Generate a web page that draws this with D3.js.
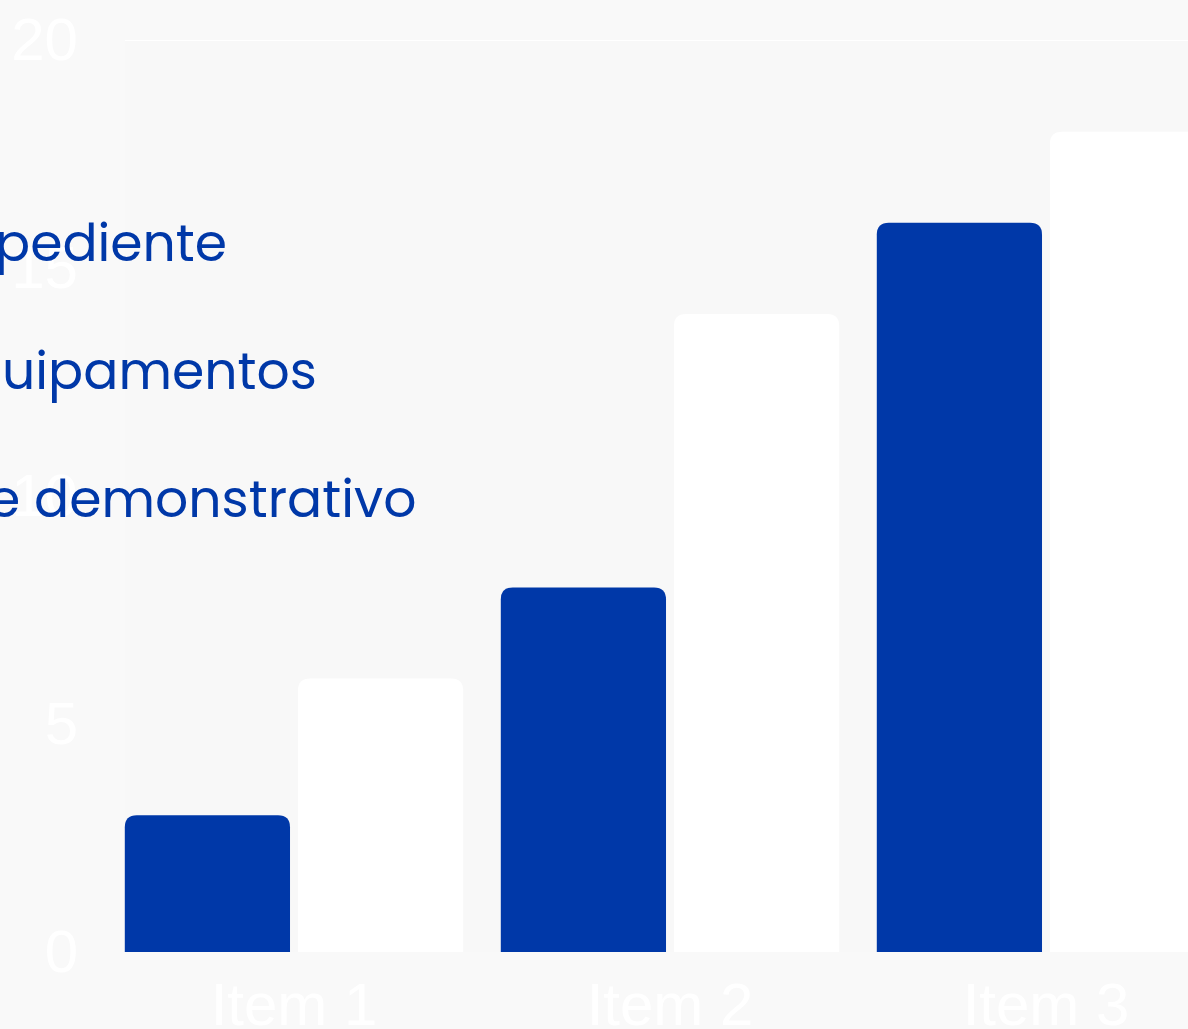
<!DOCTYPE html>
<html>
<head>
<meta charset="utf-8">
<script src="https://cdn.jsdelivr.net/npm/d3@7"></script>
<style>
  html, body { margin: 0; padding: 0; background: #f9f9f9; overflow: hidden; }
</style>
</head>
<body>
<div id="chart"></div>
<script>
const items = ["Item 1", "Item 2", "Item 3"];
const series = ["Série 1", "Série 2"];
const serie1 = [3, 8, 16];
const serie2 = [6, 14, 18];
const yTicks = [0, 5, 10, 15, 20];
// legend labels (partly cut off at the left edge in the picture)
const legendLabels = ["Expediente", "Equipamentos", "Lote demonstrativo"];
const legendCut = ["Ex", "Eq", "Lot"];

const w = 1188, h = 1029;
const baseY = 952, topY = 40.5;

const svg = d3.select("#chart").append("svg")
  .attr("width", w).attr("height", h);

svg.append("rect").attr("width", w).attr("height", h).attr("fill", "#f9f9f9");
svg.append("rect")
  .attr("x", 125).attr("y", topY)
  .attr("width", w - 125).attr("height", baseY - topY)
  .attr("fill", "#f8f8f8");

const x0 = d3.scaleBand().domain(items).range([106, 1234])
  .paddingInner(0.1).paddingOuter(0.05);
const x1 = d3.scaleBand().domain(series).range([0, x0.bandwidth()])
  .paddingInner(0.046);
const y = d3.scaleLinear().domain([0, 20]).range([baseY, topY]);

// only the top grid line shows faintly
svg.append("g").selectAll("line").data(yTicks.filter(d => d === 20)).join("line")
  .attr("x1", 125).attr("x2", w)
  .attr("y1", d => y(d)).attr("y2", d => y(d))
  .attr("stroke", "#ffffff").attr("stroke-width", 1);

const rows = items.map((it, i) => ({ item: it, vals: [serie1[i], serie2[i]] }));
const colors = ["#0038a8", "#ffffff"];

function topRound(x, yy, bw, bh, r) {
  return `M${x},${yy + bh}V${yy + r}Q${x},${yy} ${x + r},${yy}H${x + bw - r}Q${x + bw},${yy} ${x + bw},${yy + r}V${yy + bh}Z`;
}

const g = svg.append("g");
rows.forEach(row => {
  g.selectAll(null).data(row.vals).join("path")
    .attr("d", (v, j) => {
      const bx = x0(row.item) + x1(series[j]);
      return topRound(bx, y(v), x1.bandwidth(), baseY - y(v), 12);
    })
    .attr("fill", (v, j) => colors[j]);
});

// y axis
const yAxis = d3.axisLeft(y).tickValues(yTicks).tickSize(0).tickPadding(0);
const ya = svg.append("g").attr("transform", "translate(78,0)").call(yAxis);
ya.select(".domain").remove();
ya.selectAll("text")
  .attr("fill", "#ffffff")
  .attr("font-family", "'Liberation Sans', Arial, sans-serif")
  .attr("font-size", 60);

// x axis
const xAxis = d3.axisBottom(x0).tickSize(0).tickPadding(0);
const xa = svg.append("g").attr("transform", `translate(0,${baseY})`).call(xAxis);
xa.select(".domain").remove();
xa.selectAll("text")
  .attr("fill", "#ffffff")
  .attr("font-family", "'Liberation Sans', Arial, sans-serif")
  .attr("font-size", 60)
  .attr("dy", "1.22em");

// legend text
const visibleStart = [-5, 2, -12];
const lg = svg.append("g")
  .attr("font-family", "Poppins, 'Open Sans', sans-serif")
  .attr("font-size", 52)
  .attr("fill", "#0038a8");
legendLabels.forEach((t, i) => {
  const txt = lg.append("text").attr("y", 261 + i * 128).text(t);
  const probe = lg.append("text").text(legendCut[i]);
  const pw = probe.node().getComputedTextLength();
  probe.remove();
  txt.attr("x", visibleStart[i] - pw);
});
</script>
</body>
</html>
